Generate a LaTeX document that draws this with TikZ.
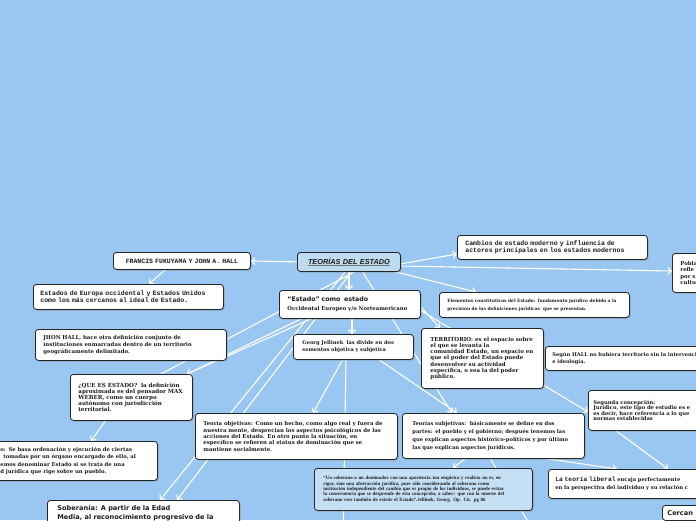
\documentclass[tikz,border=0pt]{standalone}
\usepackage{fontspec}
\setmainfont{DejaVu Serif}
\newfontfamily\monof{Liberation Mono}
\newfontfamily\lsans{Liberation Sans}
\newfontfamily\dsans{DejaVu Sans}
\newfontfamily\timesf{Liberation Serif}
\usetikzlibrary{arrows.meta,calc,shadows}
\newcommand\fsz[2]{\fontsize{#1}{#2}\selectfont}
\definecolor{sky}{RGB}{153,199,241}
\definecolor{rootfill}{RGB}{190,219,240}
\definecolor{quotefill}{RGB}{197,223,244}
\definecolor{ink}{RGB}{28,28,28}
\pgfdeclarelayer{bgl}
\pgfdeclarelayer{edgel}
\pgfsetlayers{bgl,edgel,main}
\tikzset{
 box/.style={draw=black!85, line width=0.8pt, fill=white, rounded corners=3pt, anchor=north west,
   align=left, inner ysep=2pt, text=ink,
   execute at begin node={\hyphenpenalty=10000\exhyphenpenalty=10000},
   drop shadow={shadow xshift=1.2pt, shadow yshift=-1.2pt, opacity=0.45}},
 conn/.style={draw=white, line width=1.1pt, -{Straight Barb[length=3.5pt,width=7pt]}},
 plainline/.style={draw=white, line width=1.1pt},
}
\begin{document}
\begin{tikzpicture}[x=1pt,y=-1pt]
\useasboundingbox (0,0) rectangle (696,520);
\begin{pgfonlayer}{bgl}
\fill[sky] (0,0) rectangle (696,520);
\end{pgfonlayer}

% ---------- nodes ----------
\node[box, fill=rootfill, inner xsep=2pt, text width=99pt, minimum height=19pt, align=center,
  font=\lsans\bfseries\itshape\fsz{7.3}{8}] (root) at (297,252)
  {{\color{black!55}\underline{\textcolor{ink}{TEORÍAS DEL ESTADO}}}};

\node[box, inner xsep=4pt, text width=129pt, minimum height=17pt, align=center,
  font=\monof\bfseries\fsz{6.5}{7}] (francis) at (113,252) {FRANCIS FUKUYAMA Y JOHN A. HALL};

\node[box, inner xsep=8pt, text width=174pt, minimum height=24pt,
  font=\monof\bfseries\fsz{6.5}{6.8}] (cambios) at (457,235)
  {Cambios de estado moderno y influencia de\\actores principales en los estados modernos};

\node[box, inner xsep=8pt, text width=44pt, minimum height=39pt,
  font=\bfseries\fsz{5.4}{6.5}] (pobla) at (672,253) {Pobla\\refle\\por s\\cultu};

\node[box, inner xsep=7pt, text width=176pt, minimum height=25pt,
  font=\monof\bfseries\fsz{6.5}{6.8}] (europa) at (33,284)
  {Estados de Europa occidental y Estados Unidos\\como los más cercanos al ideal de Estado.};

\node[box, inner xsep=8pt, text width=125pt, minimum height=28pt,
  font=\bfseries\fsz{5.35}{8.5}] (estado) at (279,290)
  {{\dsans\fsz{6.3}{8.5}“Estado” como\ \ estado}\\Occidental Europeo y/o Norteamericano};

\node[box, inner xsep=8pt, text width=174pt, minimum height=25pt,
  font=\bfseries\fsz{4.4}{8}] (elementos) at (439,292)
  {Elementos constitutivos del Estado: fundamento jurídico debido a la\\precisión de las definiciones jurídicas\ \ que se presentan.};

\node[box, inner xsep=8pt, text width=175pt, minimum height=31pt,
  font=\bfseries\fsz{5.4}{7}] (jhon) at (35,329)
  {JHON HALL, hace otra definición conjunto de\\instituciones enmarcadas dentro de un territorio\\geográficamente delimitado.};

\node[box, inner xsep=9pt, text width=102pt, minimum height=25pt,
  font=\bfseries\fsz{5.1}{7}] (georg) at (293,334)
  {Georg Jellinek\ \ las divide en dos\\sementos objetiva y subjetiva};

\node[box, inner xsep=9pt, text width=104pt, minimum height=60pt,
  font=\bfseries\fsz{5.5}{6.1}] (territorio) at (421,328)
  {TERRITORIO: es el espacio sobre\\el que se levanta la\\comunidad Estado, un espacio en\\que el poder del Estado puede\\desenvolver su actividad\\específica, o sea la del poder\\público.};

\node[box, inner xsep=7pt, text width=156pt, minimum height=24pt,
  font=\bfseries\fsz{5.1}{6.3}] (segun) at (545,346)
  {Según HALL no hubiera territorio sin la intervenci\\e ideología.};

\node[box, inner xsep=8pt, text width=106pt, minimum height=46pt,
  font=\bfseries\fsz{5.6}{6}] (quees) at (70,374)
  {¿QUE ES ESTADO?\ \ la definición\\aproximada es del pensador MAX\\WEBER, como un cuerpo\\autónomo con jurisdicción\\territorial.};

\node[box, inner xsep=5pt, text width=120pt, minimum height=40pt,
  font=\bfseries\fsz{5.2}{5.6}] (segunda) at (588,390)
  {Segunda concepción:\\Jurídico, este tipo de estudio es e\\es decir, hace referencia a lo que\\normas establecidas};

\node[box, inner xsep=8pt, text width=186pt, minimum height=46pt,
  font=\bfseries\fsz{5.4}{6.3}] (objetivas) at (195,413)
  {Teoría objetivas: Como un hecho, como algo real y fuera de\\nuestra mente, desprecian los aspectos psicológicos de las\\acciones del Estado. En otro punto la situación, en\\específico se refieren al status de dominación que se\\mantiene socialmente.};

\node[box, inner xsep=10pt, text width=162pt, minimum height=45pt,
  font=\bfseries\fsz{5.2}{8}] (subjetivas) at (402,413)
  {Teorías subjetivas:\ \ básicamente se define en dos\\partes: el pueblo y el gobierno; después tenemos las\\que explican aspectos histórico-políticos y por último\\las que explican aspectos jurídicos.};

\node[box, inner xsep=4pt, text width=153pt, minimum height=39pt,
  font=\bfseries\fsz{5.3}{7.4}] (sebasa) at (-4,441)
  {o: Se basa ordenación y ejecución de ciertas\\\hspace*{3pt}tomadas por un órgano encargado de ello, al\\emos denominar Estado si se trata de una\\d jurídica que rige sobre un pueblo.};

\node[box, fill=quotefill, inner xsep=9pt, text width=200pt, minimum height=42pt,
  font=\timesf\bfseries\fsz{4.9}{5.4}] (soberano) at (314,468)
  {“Un soberano o un dominador con una apariencia tan empírica y realista no es, en\\rigor, sino una abstracción jurídica, pues sólo considerando al soberano como\\institución independiente del cambio que es propio de los individuos, se puede evitar\\la consecuencia que se desprende de esta concepción, a saber: que con la muerte del\\soberano cese también de existir el Estado”.Jellinek, Georg. Op. Cit. pg 86};

\node[box, inner xsep=7pt, text width=156pt, minimum height=29pt,
  font=\bfseries\fsz{5.2}{7.7}] (liberal) at (548,469)
  {{\monof\fsz{6.3}{7.7}La teoría liberal} encaja perfectamente\\en la perspectiva del individuo y su relación c};

\node[box, inner xsep=10pt, inner ysep=5pt, text width=172pt,
  font=\dsans\bfseries\fsz{6.6}{9}] (soberania) at (47,500)
  {Soberanía: A partir de la Edad\\Media, al reconocimiento progresivo de la};

\node[box, inner xsep=5pt, inner ysep=5pt, text width=40pt,
  font=\dsans\bfseries\fsz{6.6}{9}] (cercan) at (662,505) {Cercan};

\coordinate (below1) at (343,545);
\coordinate (below2) at (542,545);

% ---------- connectors ----------
\begin{pgfonlayer}{edgel}
\draw[conn] (root.west) -- (francis.east);
\draw[conn] ($(francis.north west)+(53,17)$) -- ($(europa.north west)+(116,0)$);
\draw[conn] ($(root.north west)+(103,12)$) -- ($(cambios.north west)+(0,19)$);
\draw[conn] ($(root.north west)+(103,14)$) -- ($(pobla.north west)+(0,18)$);
\draw[conn] ($(root.north west)+(95,19)$) -- ($(elementos.north west)+(37,0)$);
\draw[conn] ($(root.north west)+(52,19)$) -- ($(estado.north west)+(70,0)$);
\draw[conn] ($(estado.north west)+(73,28)$) -- ($(georg.north west)+(59,0)$);
\draw[plainline] ($(root.north west)+(59,19)$) -- ($(quees.north west)+(91,0)$);
\draw[conn] ($(estado.north west)+(24,28)$) -- ($(quees.north west)+(117,0)$);
\draw[plainline] ($(estado.north west)+(34,28)$) -- ($(quees.north west)+(117,0)$);
\draw[conn] ($(root.north west)+(49,19)$) -- ($(soberania.north west)+(113,0)$);
\draw[conn] ($(root.north west)+(55,19)$) -- ($(soberania.north west)+(130,0)$);
\draw[conn] ($(root.north west)+(65,19)$) -- ($(subjetivas.north west)+(50,0)$);
\draw[conn] ($(estado.north west)+(141,16)$) -- ($(territorio.north west)+(19,0)$);
\draw[conn] ($(estado.north west)+(141,20)$) -- ($(segunda.north west)+(0,22)$);
\draw[conn] ($(georg.north west)+(50,25)$) -- ($(objetivas.north west)+(118,0)$);
\draw[conn] ($(georg.north west)+(85,25)$) -- ($(subjetivas.north west)+(55,0)$);
\draw[plainline] ($(georg.north west)+(53,25)$) -- (below1);
\draw[conn] ($(subjetivas.north west)+(64,45)$) -- ($(soberano.north west)+(139,0)$);
\draw[plainline] ($(subjetivas.north west)+(88,45)$) -- (below2);
\draw[conn] ($(subjetivas.north west)+(140,45)$) -- ($(liberal.north west)+(69,0)$);
\draw[conn] ($(segunda.north west)+(27,40)$) -- ($(liberal.north west)+(120,0)$);
\draw[conn] ($(quees.north west)+(36,46)$) -- ($(sebasa.north west)+(95,0)$);
\end{pgfonlayer}
\end{tikzpicture}
\end{document}
